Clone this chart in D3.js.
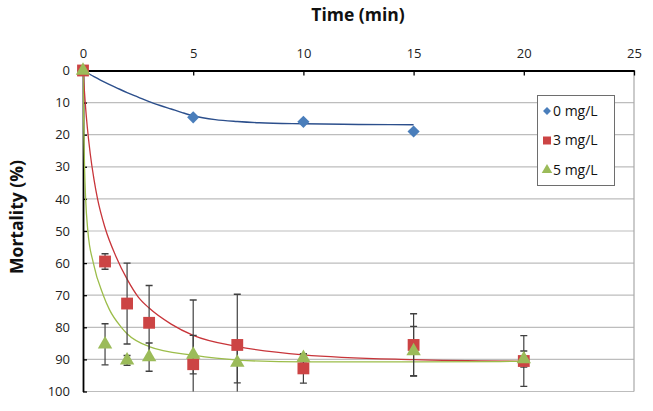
<!DOCTYPE html>
<html><head><meta charset="utf-8">
<script src="https://cdn.jsdelivr.net/npm/d3@7/dist/d3.min.js"></script>
<style>body{margin:0;background:#fff}svg{display:block}</style>
</head><body><svg id="c" width="653" height="411"></svg>
<script>
// ---- data ----
const xTicks = [0, 5, 10, 15, 20, 25];
const yTicks = [0, 10, 20, 30, 40, 50, 60, 70, 80, 90, 100];
const seriesNames = ["0 mg/L", "3 mg/L", "5 mg/L"];

const time0 = [0, 5, 10, 15];
const mort0 = [0, 14.6, 16.0, 19.0];

const time3 = [0, 1, 2, 3, 5, 7, 10, 15, 20];
const mort3 = [0, 59.5, 72.6, 78.6, 91.5, 85.5, 92.8, 85.5, 90.5];
const err3  = [0, 2.4, 12.6, 11.6, 20, 15.8, 4.6, 9.7, 7.9];

const time5 = [0, 1, 2, 3, 5, 7, 10, 15, 20];
const mort5 = [0, 85.3, 90.3, 89.3, 88.5, 91.0, 89.5, 87.4, 89.9];
const err5  = [0, 6.4, 1.5, 4.4, 6.0, 6.3, 1.2, 7.7, 2.5];

// trendlines (time, mortality)
const trend0 = [[0,0],[0.5,1.9],[1,3.7],[1.5,5.3],[2,6.9],[2.5,8.3],[3,9.7],[3.5,10.9],[4,12],[4.5,13.1],[5,14.1],[6,15.3],[7,15.9],[8,16.3],[10,16.6],[12.5,16.8],[15,16.9]];
const trend3 = [[0,0],[0.1,10],[0.2,18],[0.33,26],[0.5,34],[0.66,40],[1,49],[1.5,58],[2,65],[2.5,70.5],[3,74],[4,79],[5,82.5],[7,86],[10,88.6],[15,90.1],[20,90.6]];
const trend5 = [[0,0],[0.02,10],[0.04,20],[0.07,30],[0.12,40],[0.22,50],[0.47,60],[0.92,70],[1.2,74.5],[1.74,80],[2,82],[3,86],[5,88.7],[7,90.2],[10,90.8],[15,90.8],[20,90.6]];

// ---- layout ----
const svg = d3.select("#c");
const L = 83, R = 634, T = 70.5, B = 391.5;
const x = d3.scaleLinear().domain([0, 25]).range([L, R]);
const y = d3.scaleLinear().domain([0, 100]).range([T, B]);
const font = "'Open Sans', 'Noto Sans', sans-serif";

svg.append("defs").append("clipPath").attr("id","plot")
  .append("rect").attr("x", L).attr("y", T-8).attr("width", R-L+2).attr("height", B-T+8);

// gridlines
svg.append("g").selectAll("line").data(yTicks.slice(1)).join("line")
  .attr("x1", L).attr("x2", R).attr("y1", d => y(d)).attr("y2", d => y(d))
  .attr("stroke", "#bdbdbd").attr("stroke-width", 1.2);
// right border
svg.append("line").attr("x1", R).attr("x2", R).attr("y1", T).attr("y2", B)
  .attr("stroke", "#a8a8a8").attr("stroke-width", 1.2);

// axes
const xAxis = d3.axisTop(x).tickValues(xTicks).tickSizeInner(-5).tickSizeOuter(0).tickPadding(14);
const gx = svg.append("g").attr("transform", `translate(0,${T})`).call(xAxis);
gx.select(".domain").attr("stroke", "#000").attr("stroke-width", 1.8);
gx.selectAll(".tick line").attr("stroke", "#000").attr("stroke-width", 1.3);
gx.selectAll("text").attr("font-family", font).attr("font-size", 13).attr("fill", "#222").attr("dy", "0.1em");

const yAxis = d3.axisLeft(y).tickValues(yTicks).tickSizeInner(-4).tickSizeOuter(0).tickPadding(13);
const gy = svg.append("g").attr("transform", `translate(${L},0)`).call(yAxis);
gy.select(".domain").attr("stroke", "#000").attr("stroke-width", 1.8);
gy.selectAll(".tick line").attr("stroke", "#000").attr("stroke-width", 1.3);
gy.selectAll("text").attr("font-family", font).attr("font-size", 13).attr("fill", "#222");

// titles
svg.append("text").attr("x", 358).attr("y", 21).attr("text-anchor", "middle")
  .attr("font-family", font).attr("font-weight", "bold").attr("font-size", 17.5).attr("fill", "#111")
  .text("Time (min)");
svg.append("text").attr("transform", "translate(23,217) rotate(-90)").attr("text-anchor", "middle")
  .attr("font-family", font).attr("font-weight", "bold").attr("font-size", 17.5).attr("fill", "#111")
  .text("Mortality (%)");

// trend curves
const line = d3.line().x(d => x(d[0])).y(d => y(d[1])).curve(d3.curveMonotoneX);
const plot = svg.append("g").attr("clip-path", "url(#plot)");
plot.append("path").attr("d", line(trend0)).attr("fill", "none").attr("stroke", "#2c4f8c").attr("stroke-width", 1.4);
plot.append("path").attr("d", line(trend3)).attr("fill", "none").attr("stroke", "#c8353a").attr("stroke-width", 1.3);
plot.append("path").attr("d", line(trend5)).attr("fill", "none").attr("stroke", "#9cbd4a").attr("stroke-width", 1.3);

// error bars
function errBars(ts, ms, es) {
  const g = plot.append("g");
  ts.forEach((t, i) => {
    if (!es[i]) return;
    const cx = x(t), y1 = y(ms[i] - es[i]), y2 = y(ms[i] + es[i]);
    g.append("line").attr("x1", cx).attr("x2", cx).attr("y1", y1).attr("y2", y2)
      .attr("stroke", "#404040").attr("stroke-width", 1.2);
    [y1, y2].forEach(yy => g.append("line").attr("x1", cx-3.5).attr("x2", cx+3.5)
      .attr("y1", yy).attr("y2", yy).attr("stroke", "#404040").attr("stroke-width", 1.4));
  });
}

// markers
const sym = {
  diamond: d3.symbol().type(d3.symbolDiamond2).size(95),
  square: d3.symbol().type(d3.symbolSquare).size(140),
  triangle: d3.symbol().type(d3.symbolTriangle).size(90)
};
function markers(ts, ms, s, color) {
  svg.append("g").selectAll("path").data(ts).join("path")
    .attr("transform", (d, i) => `translate(${x(d)},${y(ms[i])})`)
    .attr("d", s).attr("fill", color);
}
markers(time0, mort0, sym.diamond, "#4a7ebb");
errBars(time3, mort3, err3);
markers(time3, mort3, sym.square, "#cc4444");
errBars(time5, mort5, err5);
markers(time5, mort5, sym.triangle, "#9bbb59");

// legend
const lg = svg.append("g");
lg.append("rect").attr("x", 537.5).attr("y", 95.5).attr("width", 77).attr("height", 90)
  .attr("fill", "#fff").attr("stroke", "#6e6e6e").attr("stroke-width", 1);
const lsym = [d3.symbol().type(d3.symbolDiamond2).size(40), d3.symbol().type(d3.symbolSquare).size(64), d3.symbol().type(d3.symbolTriangle).size(48)];
const lcol = ["#4a7ebb", "#cc4444", "#9bbb59"];
seriesNames.forEach((n, i) => {
  const yy = 111 + i * 29.5;
  lg.append("path").attr("transform", `translate(547,${yy})`).attr("d", lsym[i]()).attr("fill", lcol[i]);
  lg.append("text").attr("x", 553).attr("y", yy).attr("dy", "0.35em")
    .attr("font-family", font).attr("font-size", 14).attr("fill", "#111").text(n);
});
</script></body></html>
